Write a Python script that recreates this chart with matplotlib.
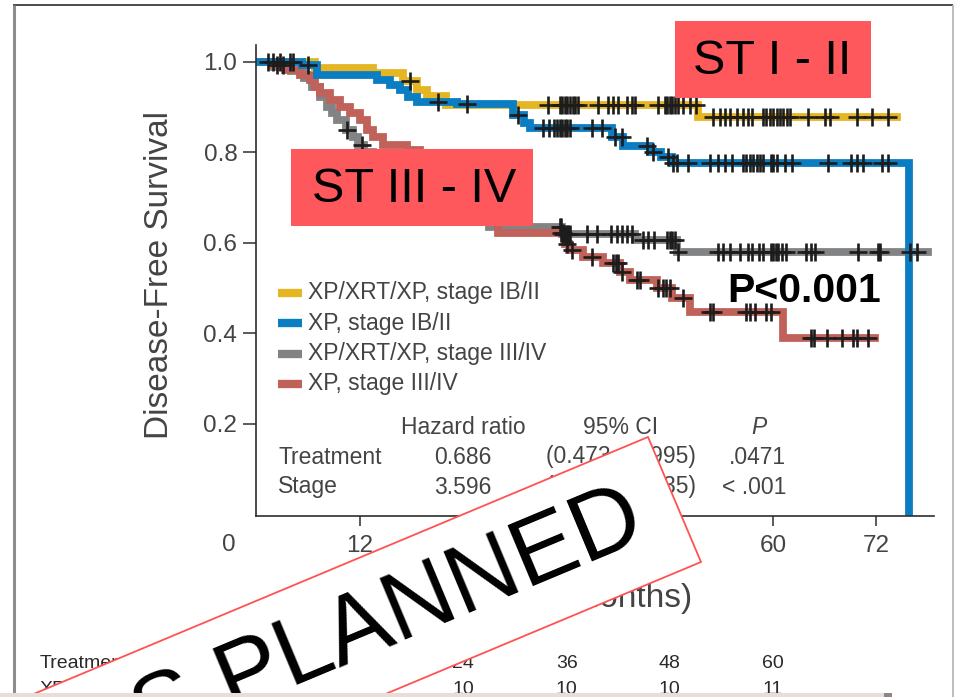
import numpy as np
import matplotlib
matplotlib.use("Agg")
import matplotlib.pyplot as plt
from matplotlib import font_manager, transforms
from matplotlib.patches import Polygon, Rectangle

# ---- survival curves: step times (months) and survival levels ----
yel_t = [0, 6.7, 13.5, 17.0, 18.6, 19.8, 22.0, 51.3]
yel_s = [1.0, 0.987, 0.976, 0.958, 0.938, 0.925, 0.905, 0.878]
yel_end = 74.4
yel_cens = [1.3, 2.7, 3.8, 17.8, 33.8, 35.2, 35.5, 35.8, 36.1, 36.4, 36.7, 37.0,
            37.3, 39.7, 40.8, 41.4, 42.0, 43.0, 43.6, 44.0, 46.6, 47.4, 47.7,
            48.0, 48.3, 48.6, 49.0, 49.5, 50.3, 51.0, 53.0, 53.8, 54.4, 55.0,
            55.8, 56.5, 57.1, 57.6, 58.8, 59.2, 59.6, 60.0, 60.4, 60.8, 61.2,
            61.6, 62.0, 64.0, 66.0, 66.6, 69.8, 71.5, 73.4]

blu_t = [0, 5.2, 7.0, 14.0, 15.5, 16.6, 17.6, 18.6, 23.3, 29.8, 31.0, 31.8,
         41.3, 42.6, 45.7, 47.0, 48.3, 75.8]
blu_s = [1.0, 0.993, 0.971, 0.96, 0.949, 0.938, 0.923, 0.912, 0.907, 0.883,
         0.865, 0.854, 0.834, 0.814, 0.801, 0.79, 0.776, 0.0]
blu_end = 75.8
blu_cens = [1.9, 4.2, 5.9, 21.0, 24.4, 30.3, 33.3, 33.9, 34.5, 34.9, 35.2,
            35.5, 35.8, 36.1, 36.4, 39.0, 40.1, 41.6, 42.4, 45.3, 46.0, 47.8,
            48.4, 48.8, 50.1, 52.7, 53.6, 54.4, 55.2, 56.5, 56.9, 57.3, 57.7,
            58.1, 58.5, 58.8, 59.7, 60.0, 60.4, 61.4, 62.2, 66.4, 69.0, 69.8,
            70.5, 72.7, 73.4]

gra_t = [0, 2.0, 4.0, 5.5, 6.4, 7.3, 8.1, 8.7, 9.3, 10.4, 11.2, 11.7, 12.5,
         13.5, 15.0, 17.0, 19.0, 22.0, 25.0, 27.0, 35.5, 44.0, 48.8]
gra_s = [1.0, 0.99, 0.98, 0.965, 0.945, 0.923, 0.9, 0.887, 0.872, 0.85, 0.834,
         0.816, 0.8, 0.78, 0.75, 0.72, 0.69, 0.66, 0.645, 0.635, 0.62, 0.606,
         0.58]
gra_end = 78.0
gra_cens = [10.5, 12.2, 35.2, 35.4, 35.6, 35.8, 36.0, 36.2, 36.4, 38.4, 39.5,
            41.2, 41.8, 42.4, 43.0, 43.6, 44.9, 45.5, 46.1, 47.7, 48.0, 48.3,
            48.6, 49.0, 53.6, 54.2, 55.0, 56.1, 57.1, 57.6, 58.4, 58.8, 59.7,
            60.0, 60.3, 60.6, 61.0, 61.5, 63.8, 64.4, 64.9, 69.9, 72.2, 72.4,
            75.9, 76.7]

red_t = [0, 1.9, 3.3, 5.0, 6.2, 6.7, 7.3, 8.5, 9.7, 10.8, 12.0, 12.8, 13.5,
         14.7, 17.4, 19.0, 21.0, 23.0, 25.0, 26.5, 28.0, 35.8, 36.3, 37.9,
         40.2, 42.2, 43.4, 46.5, 48.3, 50.3, 61.2]
red_s = [1.0, 0.993, 0.982, 0.971, 0.96, 0.945, 0.931, 0.916, 0.901, 0.887,
         0.872, 0.85, 0.834, 0.816, 0.805, 0.78, 0.75, 0.72, 0.69, 0.655, 0.622,
         0.598, 0.584, 0.569, 0.555, 0.535, 0.518, 0.5, 0.478, 0.447, 0.39]
red_end = 71.9
red_cens = [2.3, 3.0, 35.3, 35.6, 36.0, 36.6, 39.0, 41.4, 41.7, 42.0, 42.4,
            44.2, 44.5, 46.6, 47.2, 47.6, 48.0, 49.5, 52.7, 53.0, 56.8, 57.3,
            57.9, 59.2, 59.7, 64.4, 64.7, 66.3, 68.0, 69.3, 69.7, 71.0]

legend_labels = ["XP/XRT/XP, stage IB/II", "XP, stage IB/II",
                 "XP/XRT/XP, stage III/IV", "XP, stage III/IV"]

# Cox model summary
hr_rows = ["Treatment", "Stage"]
hr_values = ["0.686", "3.596"]
hr_ci = ["(0.473 - 0.995)", "(2.335 - 5.535)"]
hr_p = [".0471", "< .001"]

# number at risk
risk_times = [0, 12, 24, 36, 48, 60]
risk_row_labels = ["Treatment", "XP/XRT/XP"]
risk_xrt = [14, 12, 10, 10, 10, 11]

COLORS = ["#E6B523", "#0A7DC3", "#828385", "#C0625A"]
INK = "#444444"

names = {f.name for f in font_manager.fontManager.ttflist}
if "Liberation Sans Narrow" in names:
    NARROW, NARROW_SIZE = "Liberation Sans Narrow", 28
else:
    NARROW, NARROW_SIZE = "Liberation Sans", 24
SANS = "Liberation Sans"
plt.rcParams["font.family"] = [SANS, "DejaVu Sans"]


def level_at(times, levels, when):
    idx = np.searchsorted(times, when, side="right") - 1
    return np.asarray(levels)[idx]


W, H = 955, 697
fig = plt.figure(figsize=(W / 100, H / 100), dpi=100)
fig.patch.set_facecolor("white")

# main plot area, placed in pixel terms of the slide
left, right, top, bottom = 256, 934, 45, 516
ax = fig.add_axes([left / W, 1 - bottom / H, (right - left) / W, (bottom - top) / H])
ax.set_zorder(1)
ax.set_xlim(-0.1, 78.7)
ax.set_ylim(-0.0044, 1.0376)
for side in ["top", "right"]:
    ax.spines[side].set_visible(False)
for side in ["left", "bottom"]:
    ax.spines[side].set_linewidth(1.2)
    ax.spines[side].set_color("#2e2e2e")
ax.set_yticks([0.2, 0.4, 0.6, 0.8, 1.0])
ax.set_yticklabels(["0.2", "0.4", "0.6", "0.8", "1.0"])
ax.set_xticks([12, 24, 36, 48, 60, 72])
ax.tick_params(axis="y", length=9.5, width=1.1, pad=4, labelsize=17.5,
               colors="#2e2e2e", labelcolor=INK)
ax.tick_params(axis="x", length=7.5, width=1.1, pad=6, labelsize=17.5,
               colors="#2e2e2e", labelcolor=INK)

groups = [
    (gra_t, gra_s, gra_end, gra_cens, COLORS[2]),
    (red_t, red_s, red_end, red_cens, COLORS[3]),
    (yel_t, yel_s, yel_end, yel_cens, COLORS[0]),
    (blu_t, blu_s, blu_end, blu_cens, COLORS[1]),
]
for t, s, end, cens, col in groups:
    tt = np.append(t, end)
    ss = np.append(s, s[-1])
    ax.step(tt, ss, where="post", color=col, lw=5.6, solid_joinstyle="miter",
            zorder=2)
for t, s, end, cens, col in groups:
    ax.plot(cens, level_at(t, s, cens), ls="none", marker="+", ms=13, mew=1.9,
            color="#1c1c1c", zorder=4)

# overlay in slide pixel coordinates
ov = fig.add_axes([0, 0, 1, 1])
ov.set_zorder(3)
ov.set_xlim(0, W)
ov.set_ylim(H, 0)
ov.axis("off")
ov.patch.set_alpha(0)

# slide frame and window edge
ov.plot([13, 953], [5, 5], color="#4a4a4a", lw=1.4, solid_capstyle="butt")
ov.plot([14, 14], [5, 697], color="#8d8d8d", lw=2.2, solid_capstyle="butt")
ov.plot([953, 953], [5, 697], color="#b0b0b0", lw=1.2, solid_capstyle="butt")
ov.add_patch(Rectangle((0, 693), 884, 5, facecolor="#E9DDD9", edgecolor="none",
                       zorder=8))
ov.add_patch(Rectangle((884, 693), 8, 5, facecolor="#8e8784", edgecolor="none",
                       zorder=8))

ov.text(229, 545, "0", ha="center", va="center", fontsize=17.5, color=INK)
ov.text(159, 275, "Disease-Free Survival", rotation=90, ha="center",
        va="center", fontsize=NARROW_SIZE, family=NARROW, color=INK)
ov.text(692, 599, "Time (months)", ha="right", va="center",
        fontsize=NARROW_SIZE, family=NARROW, color=INK)

# legend
for i, (lab, col) in enumerate(zip(legend_labels, COLORS)):
    y = 293 + i * 30.3
    ov.plot([278, 302], [y, y], color=col, lw=6, solid_capstyle="butt")
    ov.text(308, y, lab, ha="left", va="center", fontsize=16.5, color=INK)

# hazard ratio table
ov.text(463, 427, "Hazard ratio", ha="center", va="center", fontsize=16.5,
        color=INK)
ov.text(621, 427, "95% CI", ha="center", va="center", fontsize=16.5, color=INK)
ov.text(759, 427, "P", ha="center", va="center", fontsize=16.5, color=INK,
        style="italic")
for i, row in enumerate(hr_rows):
    y = 457 + i * 30
    ov.text(278, y, row, ha="left", va="center", fontsize=16.5, color=INK)
    ov.text(463, y, hr_values[i], ha="center", va="center", fontsize=16.5,
            color=INK)
    ov.text(621, y, hr_ci[i], ha="center", va="center", fontsize=16.5,
            color=INK)
    ov.text(786, y, hr_p[i], ha="right", va="center", fontsize=16.5, color=INK)

# number at risk, columns placed on the time axis
risk_tf = transforms.blended_transform_factory(ax.transData, ov.transData)
ov.text(40, 663, risk_row_labels[0], ha="left", va="center", fontsize=14,
        color="#2a2a2a")
ov.text(40, 690, risk_row_labels[1], ha="left", va="center", fontsize=14,
        color="#2a2a2a")
for tm, n in zip(risk_times, risk_xrt):
    ax.text(tm, 663, str(tm), transform=risk_tf, ha="center", va="center",
            fontsize=14, color="#2a2a2a")
    ax.text(tm, 690, str(n), transform=risk_tf, ha="center", va="center",
            fontsize=14, color="#2a2a2a")

# stage call-outs
ov.add_patch(Rectangle((675, 21), 196, 77, facecolor="#FE585C",
                       edgecolor="none", zorder=5))
ov.text(772, 61, "ST I - II", ha="center", va="center", fontsize=35,
        color="black", zorder=6)
ov.add_patch(Rectangle((291, 149), 242, 77, facecolor="#FE585C",
                       edgecolor="none", zorder=5))
ov.text(312, 190, "ST III - IV", ha="left", va="center", fontsize=35,
        color="black", zorder=6)
ov.text(727, 291, "P<0.001", ha="left", va="center", fontsize=29.5,
        fontweight="bold", color="black", zorder=6)

# tilted stamp
ang = np.deg2rad(22.7)
u = np.array([-np.cos(ang), np.sin(ang)])
top_right = np.array([648.0, 437.0])
bot_right = np.array([701.0, 562.0])
corners = [top_right, bot_right, bot_right + 900 * u, top_right + 900 * u]
ov.add_patch(Polygon(corners, closed=True, facecolor="white",
                     edgecolor="#FF5252", lw=1.3, zorder=7))
mid = (top_right + bot_right) / 2 + 38 * u
ov.text(mid[0], mid[1], "AS PLANNED", ha="right", va="center",
        rotation=22.7, rotation_mode="anchor", fontsize=69, color="black",
        zorder=7.5)

fig.savefig("out.png", dpi=100, facecolor="white")
